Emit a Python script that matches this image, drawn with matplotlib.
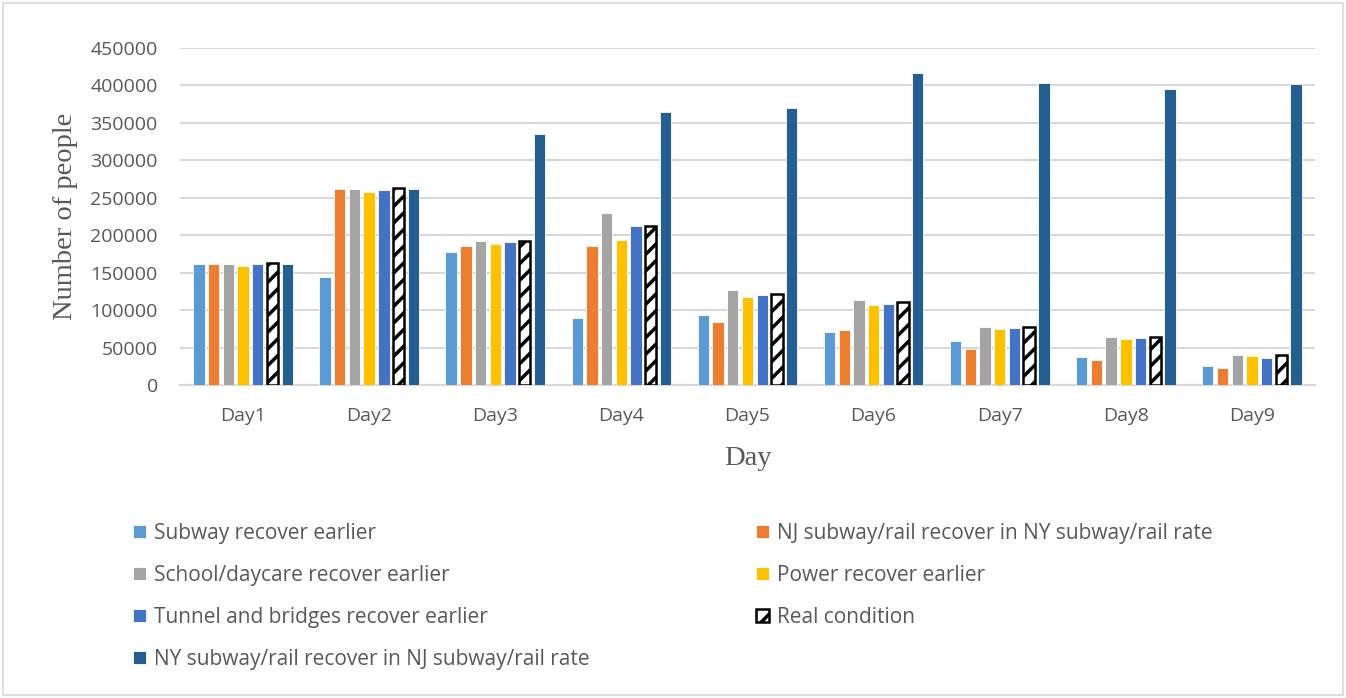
import numpy as np
import matplotlib.pyplot as plt
from matplotlib.patches import Rectangle

days = ['Day1', 'Day2', 'Day3', 'Day4', 'Day5', 'Day6', 'Day7', 'Day8', 'Day9']

subway = [162000, 144000, 178000, 90000, 94000, 71000, 59000, 38000, 25500]
nj_rate = [162000, 262000, 185500, 186000, 84500, 74000, 48000, 33500, 23000]
school = [162000, 262000, 192000, 229500, 127000, 113000, 77500, 63500, 40000]
power = [159500, 258000, 188000, 193500, 117500, 107000, 74500, 61500, 38500]
tunnel = [161500, 261000, 191000, 212000, 120500, 107500, 75500, 62500, 36500]
real = [163000, 263000, 192500, 212500, 122000, 110500, 77000, 63500, 40000]
ny_rate = [162000, 262000, 335000, 364500, 370000, 417000, 403000, 395000, 401500]

series = [
    ('Subway recover earlier', subway, '#5B9BD5'),
    ('NJ subway/rail recover in NY subway/rail rate', nj_rate, '#ED7D31'),
    ('School/daycare recover earlier', school, '#A5A5A5'),
    ('Power recover earlier', power, '#FFC000'),
    ('Tunnel and bridges recover earlier', tunnel, '#4472C4'),
    ('Real condition', real, None),
    ('NY subway/rail recover in NJ subway/rail rate', ny_rate, '#255E91'),
]

plt.rcParams['hatch.linewidth'] = 2.5
tick_font = 'Open Sans'
serif_font = 'Liberation Serif'
W, H = 1346, 698

fig = plt.figure(figsize=(W / 100, H / 100), dpi=100)
ax = fig.add_axes([180 / W, 1 - 385 / H, (1315 - 180) / W, (385 - 48) / H])

x = np.arange(len(days))
pitch = 0.1167
width = 0.09
handles = {}
for i, (name, vals, color) in enumerate(series):
    pos = x + (i - 3) * pitch
    if color is None:
        b = ax.bar(pos, vals, width, color='white', edgecolor='black',
                   linewidth=1.8, hatch='//', label=name, zorder=3)
    else:
        b = ax.bar(pos, vals, width, color=color, edgecolor='white',
                   linewidth=0.6, label=name, zorder=3)
    handles[name] = b

ax.set_xlim(-0.5, len(days) - 0.5)
ax.set_ylim(0, 450000)
ax.set_yticks(np.arange(0, 450001, 50000))
ax.yaxis.grid(True, color='#D9D9D9', linewidth=1.5, zorder=0)
ax.set_axisbelow(True)
for s in ['left', 'right', 'top']:
    ax.spines[s].set_visible(False)
ax.spines['bottom'].set_color('#D9D9D9')
ax.spines['bottom'].set_linewidth(1.5)
ax.tick_params(axis='both', length=0, labelcolor='#595959', labelsize=14)
ax.tick_params(axis='y', pad=16)
ax.tick_params(axis='x', pad=16)
ax.set_xticks(x)
ax.set_xticklabels(days)
for lbl in ax.get_xticklabels() + ax.get_yticklabels():
    lbl.set_family(tick_font)

ax.set_ylabel('Number of people', family=serif_font, fontsize=20.5, color='#595959')
ax.yaxis.set_label_coords((78 - 180) / 1135, 0.5)
ax.set_xlabel('Day', family=serif_font, fontsize=20.5, color='#595959')
ax.xaxis.set_label_coords(0.5, (385 - 446) / 337)

# legend filled column by column, so reorder to read row by row
order = [0, 2, 4, 6, 1, 3, 5]
hs = [handles[series[k][0]] for k in order]
ls = [series[k][0] for k in order]
leg = fig.legend(hs, ls, ncol=2, loc='upper left', bbox_to_anchor=(133 / W, 1 - 523 / H),
                 frameon=False, prop={'family': tick_font, 'size': 15},
                 borderpad=0, borderaxespad=0,
                 handlelength=0.6, handleheight=0.6, handletextpad=0.4,
                 labelspacing=1.0, columnspacing=8.0, labelcolor='#595959')

fig.patches.append(Rectangle((3 / W, 3 / H), 1340 / W, 692 / H,
                             transform=fig.transFigure, fill=False,
                             edgecolor='#D9D9D9', linewidth=1.2))

fig.savefig('out.png', dpi=100)
